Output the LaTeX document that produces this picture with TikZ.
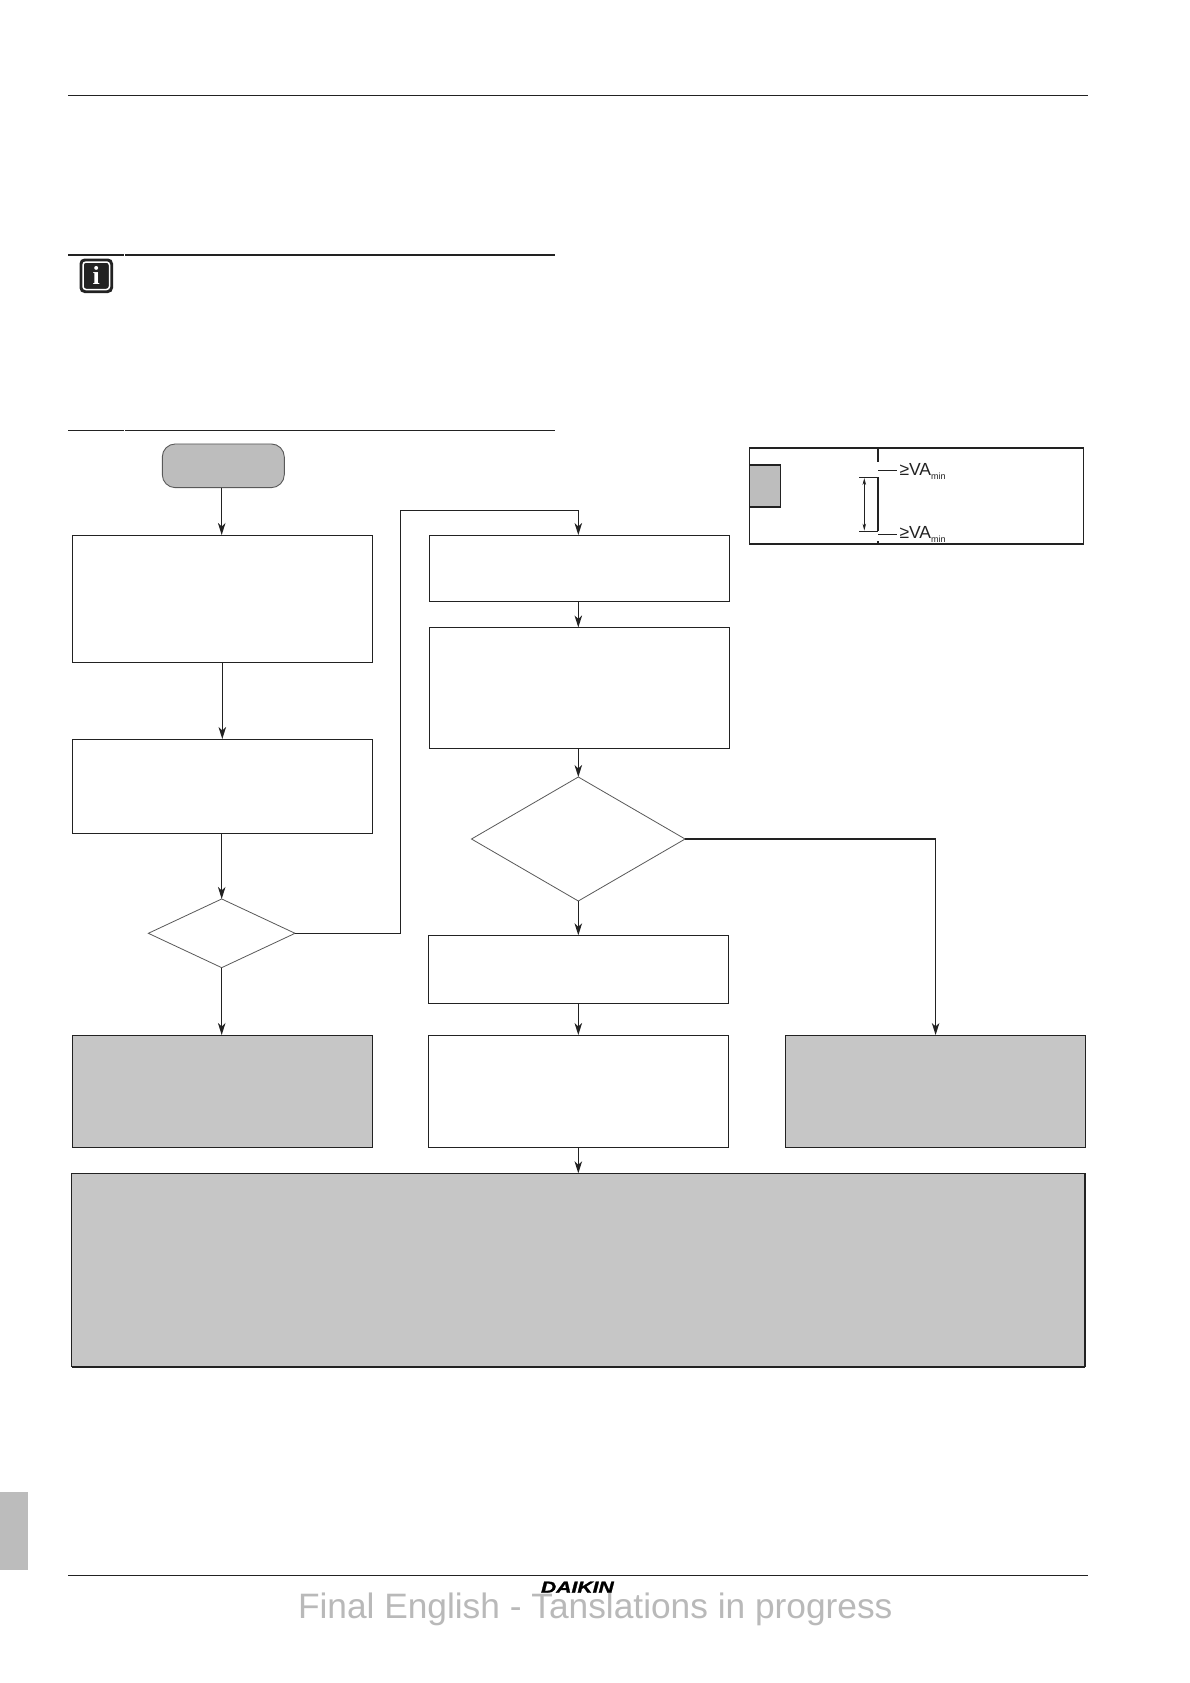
\documentclass[tikz,border=0pt]{standalone}
\usepackage{fontspec}
\setmainfont{Liberation Sans}
\newfontfamily\iconfont{Liberation Serif}
\newfontfamily\logofont[FakeStretch=1.32,FakeBold=1.5]{Liberation Sans}
\usetikzlibrary{shapes.geometric,arrows.meta}
\definecolor{ink}{HTML}{222222}
\definecolor{panelgrey}{HTML}{C6C6C6}
\definecolor{startgrey}{HTML}{BDBDBD}
\definecolor{markgrey}{HTML}{B9B9B9}
\tikzset{
  rulel/.style={draw=ink,line width=1.1pt},
  flowbox/.style={draw=ink,line width=1pt,fill=white,rectangle,inner sep=0pt,outer sep=0pt},
  greybox/.style={flowbox,fill=panelgrey},
  decide/.style={draw=black!65,line width=0.8pt,fill=white,diamond,inner sep=0pt,outer sep=0pt},
  flow/.style={draw=ink,line width=1.1pt,-{Stealth[length=12pt,width=7.5pt,inset=3.5pt]}},
  wall/.style={draw=ink,line width=1.6pt},
  thin/.style={draw=ink,line width=0.9pt},
  dim/.style={draw=ink,line width=0.8pt,{Stealth[length=7pt,width=3.5pt]}-{Stealth[length=7pt,width=3.5pt]}},
  lbl/.style={inner sep=0pt,outer sep=0pt,anchor=base west,text=ink},
}
\begin{document}
\begin{tikzpicture}[x=1pt,y=-1pt]
\path[use as bounding box,fill=white] (0,0) rectangle (1190,1683);

% page furniture
\coordinate (hl) at (68,95.5); \coordinate (hr) at (1088,95.5);
\draw[rulel] (hl) -- (hr);
\coordinate (il1) at (68,255); \coordinate (il2) at (123.7,255);
\coordinate (ir1) at (125,255); \coordinate (ir2) at (555,255);
\draw[rulel] (il1) -- (il2); \draw[rulel] (ir1) -- (ir2);
\coordinate (jl1) at (68,430.3); \coordinate (jl2) at (123.7,430.3);
\coordinate (jr1) at (125,430.3); \coordinate (jr2) at (555,430.3);
\draw[rulel] (jl1) -- (jl2); \draw[rulel] (jr1) -- (jr2);
\coordinate (fl) at (68,1575.3); \coordinate (fr) at (1088,1575.3);
\draw[rulel] (fl) -- (fr);
\fill[markgrey!95!white] (0,1492) rectangle (28,1570);

% information icon
\fill[ink,rounded corners=5pt] (79.5,258.5) rectangle (113,293);
\draw[white,line width=1.5pt,rounded corners=3pt] (83,262) rectangle (109.5,289.5);
\node[inner sep=0pt,text=white,font=\iconfont\bfseries\fontsize{26}{26}\selectfont] (infoi) at (96.3,275.5) {i};

% columns for connectors
\coordinate (colA) at (221.7,0);
\coordinate (colB) at (578.3,0);
\coordinate (colC) at (935.6,0);
\coordinate (bend) at (400.4,510.7);

% flow nodes
\node[draw=black!65,fill=startgrey,line width=0.9pt,rectangle,rounded corners=13pt,inner sep=0pt,outer sep=0pt,minimum width=122pt,minimum height=43.7pt] (start) at (223.3,465.8) {};
\node[flowbox,minimum width=300.5pt,minimum height=127pt] (b1) at (222.3,598.5) {};
\node[flowbox,minimum width=300.5pt,minimum height=94pt] (b2) at (222.3,786) {};
\node[decide,minimum width=146.7pt,minimum height=68.7pt] (d1) at (221.7,933.3) {};
\node[greybox,minimum width=300.5pt,minimum height=112pt] (gl) at (222.3,1091) {};
\node[flowbox,minimum width=300pt,minimum height=66pt] (b3) at (579.5,568) {};
\node[flowbox,minimum width=300pt,minimum height=121.5pt] (b4) at (579.5,688.2) {};
\node[decide,minimum width=213.6pt,minimum height=124pt] (d2) at (578.3,839) {};
\node[flowbox,minimum width=300pt,minimum height=68pt] (b5) at (578.5,969.3) {};
\node[flowbox,minimum width=300pt,minimum height=112pt] (b6) at (578.5,1091) {};
\node[greybox,minimum width=300pt,minimum height=112pt] (gr) at (935.5,1091) {};
\node[greybox,minimum width=1013.3pt,minimum height=193.4pt] (big) at (578.35,1270) {};
\draw[ink,line width=2.2pt] (big.south west) -- (big.south east);
\draw[ink,line width=1.5pt] (big.north west) -- (big.south west);
\draw[ink,line width=1.5pt] (big.north east) -- (big.south east);

% connectors
\draw[flow] (start.south -| colA) -- (b1.north -| colA);
\draw[flow] (b1.south) -- (b2.north);
\draw[flow] (b2.south -| colA) -- (d1.north);
\draw[flow] (d1.south) -- (gl.north -| d1.south);
\draw[flow] (d1.east) -| (bend) -- (bend -| colB) -- (b3.north -| colB);
\draw[flow] (b3.south -| colB) -- (b4.north -| colB);
\draw[flow] (b4.south -| colB) -- (d2.north);
\draw[flow] (d2.south) -- (b5.north -| d2.south);
\draw[flow] (d2.east) -| (gr.north -| colC);
\draw[flow] (b5.south -| colB) -- (b6.north -| colB);
\draw[flow] (b6.south -| colB) -- (big.north -| colB);

% inset plan
\draw[wall] (749.3,447.7) rectangle (1083.3,543.7);
\draw[wall,fill=startgrey] (749.3,464.7) rectangle (780.3,507);
\coordinate (w1) at (878,447.7); \coordinate (w2) at (878,462.3);
\coordinate (w3) at (878,477.3); \coordinate (w4) at (878,531.3);
\coordinate (w5) at (878,541); \coordinate (w6) at (878,543.7);
\draw[wall] (w1) -- (w2); \draw[wall] (w3) -- (w4); \draw[wall] (w5) -- (w6);
\coordinate (t1) at (878,470.3); \coordinate (t2) at (897,470.3);
\coordinate (t3) at (878,534); \coordinate (t4) at (897,534);
\draw[thin] (t1) -- (t2); \draw[thin] (t3) -- (t4);
\coordinate (e1) at (859.3,477.3); \coordinate (e2) at (859.3,531.3);
\draw[thin] (e1) -- (w3); \draw[thin] (e2) -- (w4);
\coordinate (a1) at (864.3,478); \coordinate (a2) at (864.3,530.6);
\draw[dim] (a1) -- (a2);
\node[lbl,font=\fontsize{17.5}{20}\selectfont] (va1) at (899.5,475.5) {≥VA\raisebox{-3.5pt}{\fontsize{9}{11}\selectfont min}};
\node[lbl,font=\fontsize{17.5}{20}\selectfont] (va2) at (899.5,538.5) {≥VA\raisebox{-3.5pt}{\fontsize{9}{11}\selectfont min}};

% footer
\node[lbl,text=markgrey,font=\fontsize{35.3}{40}\selectfont] (mark) at (298,1618) {Final English - Tanslations in progress};
\node[lbl,text=black,font=\logofont\bfseries\itshape\fontsize{16}{16}\selectfont] (logo) at (541,1592.7) {DAIKIN};
\end{tikzpicture}
\end{document}
